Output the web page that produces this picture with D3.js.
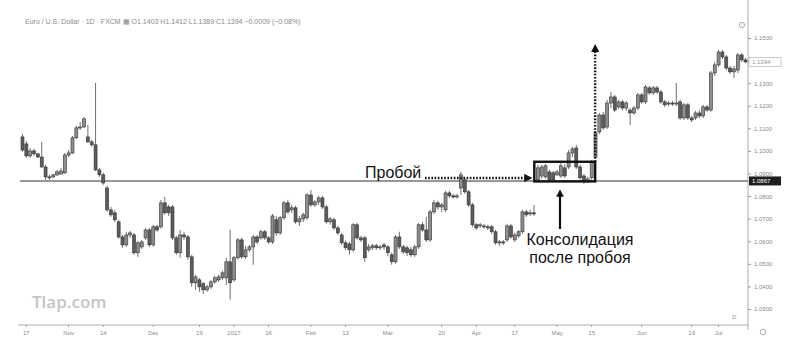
<!DOCTYPE html>
<html>
<head>
<meta charset="utf-8">
<script src="https://cdn.jsdelivr.net/npm/d3@7/dist/d3.min.js"></script>
<style>
    body { margin: 0; background: #fff; }
    svg { display: block; font-family: "Liberation Sans", Arial, sans-serif; }
    .price-tick text, .date-tick text { fill: #8a8a8a; font-size: 6px; }
    .note { font-size: 16px; fill: #111; }
</style>
</head>
<body>
<div id="chart"></div>
<script>
// EUR/USD daily candles (oct 2016 .. jul 2017)
let openP = [1.1062,1.1031,1.0978,1.1000,1.0987,1.0973,1.0929,1.0885,1.0885,1.0894,1.0898,1.0903,1.0982,1.0991,1.1058,1.1102,1.1106,1.1062,1.1040,1.1027,
    1.0916,1.0894,1.0836,1.0739,1.0726,1.0686,1.0619,1.0584,1.0628,1.0628,1.0549,1.0575,1.0615,1.0650,1.0584,1.0664,1.0664,1.0770,1.0752,1.0752,
    1.0615,1.0549,1.0628,1.0619,1.0531,1.0416,1.0429,1.0412,1.0385,1.0398,1.0420,1.0429,1.0438,1.0438,1.0509,1.0429,1.0527,1.0606,1.0531,1.0562,
    1.0575,1.0619,1.0615,1.0642,1.0615,1.0597,1.0695,1.0637,1.0704,1.0770,1.0739,1.0748,1.0686,1.0699,1.0704,1.0805,1.0761,1.0774,1.0792,1.0752,
    1.0686,1.0695,1.0659,1.0628,1.0593,1.0588,1.0562,1.0673,1.0615,1.0615,1.0562,1.0571,1.0580,1.0571,1.0584,1.0575,1.0540,1.0509,1.0619,1.0575,
    1.0571,1.0562,1.0540,1.0575,1.0673,1.0650,1.0606,1.0730,1.0770,1.0752,1.0739,1.0814,1.0801,1.0796,1.0836,1.0872,1.0819,1.0761,1.0673,1.0668,
    1.0668,1.0664,1.0664,1.0642,1.0593,1.0597,1.0606,1.0668,1.0606,1.0624,1.0642,1.0730,1.0721,1.0726,1.0872,1.0889,1.0885,1.0907,1.0903,1.0894,
    1.0889,1.0925,1.0929,1.0991,1.1013,1.0929,1.0889,1.0867,1.0881,1.0973,1.1084,1.1159,1.1106,1.1212,1.1239,1.1195,1.1217,1.1190,1.1181,1.1168,
    1.1190,1.1248,1.1217,1.1279,1.1257,1.1279,1.1261,1.1217,1.1208,1.1212,1.1208,1.1217,1.1146,1.1204,1.1146,1.1146,1.1168,1.1155,1.1195,1.1181,
    1.1345,1.1381,1.1438,1.1416,1.1367,1.1350,1.1358,1.1425,1.1403];
let highP = [1.1075,1.1044,1.1013,1.1009,1.0991,1.1040,1.0938,1.0894,1.0898,1.0916,1.0925,1.0991,1.1004,1.1066,1.1111,1.1128,1.1150,1.1115,1.1049,1.1301,
    1.0925,1.0903,1.0845,1.0752,1.0739,1.0695,1.0628,1.0642,1.0646,1.0637,1.0602,1.0606,1.0659,1.0659,1.0673,1.0673,1.0783,1.0796,1.0761,1.0761,
    1.0624,1.0650,1.0642,1.0628,1.0540,1.0451,1.0438,1.0420,1.0407,1.0429,1.0447,1.0451,1.0469,1.0527,1.0650,1.0535,1.0615,1.0615,1.0580,1.0584,
    1.0628,1.0628,1.0650,1.0650,1.0624,1.0721,1.0712,1.0712,1.0779,1.0783,1.0761,1.0757,1.0712,1.0726,1.0814,1.0827,1.0783,1.0801,1.0801,1.0761,
    1.0708,1.0704,1.0668,1.0637,1.0602,1.0597,1.0681,1.0681,1.0624,1.0624,1.0588,1.0588,1.0588,1.0584,1.0593,1.0584,1.0549,1.0628,1.0642,1.0584,
    1.0580,1.0575,1.0584,1.0681,1.0686,1.0708,1.0739,1.0783,1.0779,1.0770,1.0823,1.0823,1.0810,1.0810,1.0907,1.0881,1.0827,1.0770,1.0681,1.0681,
    1.0677,1.0673,1.0673,1.0650,1.0606,1.0606,1.0677,1.0677,1.0637,1.0650,1.0739,1.0739,1.0739,1.0761,1.0938,1.0938,1.0942,1.0916,1.0911,1.0916,
    1.0947,1.0942,1.1004,1.1018,1.1027,1.0938,1.0898,1.0885,1.0960,1.1088,1.1168,1.1173,1.1226,1.1261,1.1248,1.1226,1.1226,1.1221,1.1190,1.1199,
    1.1257,1.1257,1.1292,1.1288,1.1288,1.1288,1.1270,1.1226,1.1221,1.1221,1.1301,1.1226,1.1212,1.1212,1.1155,1.1177,1.1181,1.1204,1.1204,1.1354,
    1.1394,1.1447,1.1447,1.1425,1.1376,1.1376,1.1434,1.1434,1.1412];
let lowP = [1.0996,1.0969,1.0969,1.0978,1.0969,1.0925,1.0872,1.0872,1.0881,1.0889,1.0894,1.0898,1.0973,1.0987,1.1053,1.1093,1.1102,1.1035,1.1018,1.0911,
    1.0885,1.0850,1.0730,1.0708,1.0686,1.0611,1.0571,1.0575,1.0615,1.0540,1.0531,1.0566,1.0606,1.0575,1.0575,1.0642,1.0655,1.0717,1.0712,1.0606,
    1.0540,1.0527,1.0606,1.0518,1.0398,1.0385,1.0376,1.0367,1.0376,1.0389,1.0412,1.0420,1.0429,1.0407,1.0341,1.0420,1.0518,1.0522,1.0522,1.0553,
    1.0496,1.0588,1.0606,1.0606,1.0588,1.0588,1.0624,1.0628,1.0695,1.0721,1.0726,1.0677,1.0668,1.0686,1.0695,1.0752,1.0752,1.0761,1.0743,1.0677,
    1.0673,1.0650,1.0628,1.0584,1.0562,1.0540,1.0553,1.0606,1.0597,1.0509,1.0553,1.0562,1.0562,1.0562,1.0562,1.0535,1.0496,1.0500,1.0566,1.0544,
    1.0535,1.0531,1.0531,1.0566,1.0642,1.0597,1.0597,1.0721,1.0739,1.0730,1.0730,1.0792,1.0788,1.0788,1.0805,1.0810,1.0752,1.0664,1.0650,1.0659,
    1.0655,1.0650,1.0633,1.0584,1.0580,1.0584,1.0597,1.0611,1.0597,1.0615,1.0633,1.0708,1.0712,1.0712,1.0863,1.0876,1.0876,1.0867,1.0867,1.0889,
    1.0881,1.0881,1.0920,1.0973,1.0920,1.0872,1.0854,1.0858,1.0872,1.0965,1.1075,1.1093,1.1097,1.1190,1.1173,1.1186,1.1181,1.1177,1.1115,1.1159,
    1.1181,1.1208,1.1208,1.1248,1.1248,1.1252,1.1208,1.1195,1.1199,1.1199,1.1199,1.1137,1.1137,1.1137,1.1128,1.1137,1.1146,1.1146,1.1173,1.1173,
    1.1332,1.1372,1.1407,1.1358,1.1341,1.1323,1.1345,1.1394,1.1389];
let closeP = [1.1004,1.0978,1.1000,1.0987,1.0973,1.0929,1.0885,1.0881,1.0894,1.0907,1.0911,1.0982,1.0991,1.1058,1.1102,1.1106,1.1142,1.1040,1.1027,1.0916,
    1.0894,1.0858,1.0739,1.0717,1.0695,1.0619,1.0584,1.0628,1.0637,1.0549,1.0593,1.0597,1.0650,1.0584,1.0664,1.0650,1.0770,1.0726,1.0726,1.0615,
    1.0549,1.0628,1.0619,1.0531,1.0416,1.0442,1.0398,1.0385,1.0398,1.0420,1.0438,1.0442,1.0460,1.0509,1.0416,1.0527,1.0606,1.0531,1.0562,1.0575,
    1.0619,1.0597,1.0642,1.0615,1.0597,1.0712,1.0637,1.0704,1.0770,1.0730,1.0748,1.0686,1.0699,1.0717,1.0805,1.0761,1.0774,1.0792,1.0752,1.0686,
    1.0699,1.0659,1.0637,1.0593,1.0571,1.0562,1.0673,1.0615,1.0606,1.0527,1.0575,1.0580,1.0571,1.0575,1.0575,1.0549,1.0509,1.0619,1.0575,1.0553,
    1.0549,1.0540,1.0575,1.0673,1.0650,1.0606,1.0730,1.0770,1.0752,1.0761,1.0814,1.0801,1.0796,1.0801,1.0894,1.0819,1.0761,1.0673,1.0659,1.0673,
    1.0664,1.0659,1.0642,1.0593,1.0597,1.0593,1.0668,1.0619,1.0628,1.0642,1.0730,1.0717,1.0726,1.0721,1.0925,1.0929,1.0934,1.0872,1.0872,1.0907,
    1.0934,1.0889,1.0991,1.1009,1.0929,1.0881,1.0863,1.0876,1.0951,1.1080,1.1159,1.1102,1.1212,1.1239,1.1181,1.1217,1.1190,1.1212,1.1168,1.1190,
    1.1248,1.1217,1.1283,1.1257,1.1279,1.1261,1.1217,1.1204,1.1212,1.1208,1.1212,1.1146,1.1204,1.1146,1.1137,1.1168,1.1155,1.1195,1.1181,1.1345,
    1.1381,1.1438,1.1416,1.1367,1.1350,1.1363,1.1425,1.1403,1.1394];

// price axis and date axis labels
let priceTicks = [1.03,1.04,1.05,1.06,1.07,1.08,1.09,1.10,1.11,1.12,1.13,1.14,1.15];
let dateLabels = ["17","Nov","14","Dec","19","2017","16","Feb","13","Mar","20","Apr","17","May","15","Jun","19","Jul"];
let dateIndex  = [1,12,21,34,46,55,64,75,84,95,109,118,128,139,148,161,174,181];

// breakout level and the consolidation range (candle indexes)
let breakoutLevel = 1.0867;
let consolidation = [134, 148];
let lastPrice = 1.1394;

let width = 791, height = 357;
let svg = d3.select("#chart").append("svg")
    .attr("width", width)
    .attr("height", height);

let n = closeP.length;
let x = d3.scaleBand().domain(d3.range(n)).range([21, 747]).paddingInner(0.22);
let y = d3.scaleLinear().domain([1.03, 1.15]).range([309, 38]);
let cx = i => x(i) + x.bandwidth() / 2;

//TITLE LINE//////////////////////////////////////////////////////////////
svg.append("text")
    .attr("x", 25).attr("y", 24)
    .attr("font-size", 7).attr("fill", "#8a8a8a")
    .text("Euro / U.S. Dollar · 1D · FXCM  \u25A6  O" + openP[n - 1].toFixed(4) + " H" + highP[n - 1].toFixed(4) +
        " L" + lowP[n - 1].toFixed(4) + " C" + closeP[n - 1].toFixed(4) + " \u22120.0009 (\u22120.08%)");

//AXES////////////////////////////////////////////////////////////////////
svg.append("line")
    .attr("x1", 748).attr("x2", 748).attr("y1", 0).attr("y2", 330)
    .attr("stroke", "#9a9a9a").attr("stroke-width", 0.8);
svg.append("line")
    .attr("x1", 18).attr("x2", 748).attr("y1", 325).attr("y2", 325)
    .attr("stroke", "#9a9a9a").attr("stroke-width", 0.8);

// the label under the last price box is hidden by the box, as on the chart
let yAxis = d3.axisRight(y).tickValues(priceTicks)
    .tickFormat(d => Math.abs(y(d) - y(lastPrice)) < 7 ? "" : d3.format(".4f")(d))
    .tickSize(3).tickPadding(3);
svg.append("g").attr("class", "price-tick")
    .attr("transform", "translate(748,0)")
    .call(yAxis)
    .call(g => g.select(".domain").remove())
    .call(g => g.selectAll("line").attr("stroke", "#9a9a9a"));

let xAxis = d3.axisBottom(x)
    .tickValues(dateIndex)
    .tickFormat((d, i) => dateLabels[i])
    .tickSize(2).tickPadding(4);
svg.append("g").attr("class", "date-tick")
    .attr("transform", "translate(0,325)")
    .call(xAxis)
    .call(g => g.select(".domain").remove())
    .call(g => g.selectAll("line").attr("stroke", "#9a9a9a"));

//WATERMARK///////////////////////////////////////////////////////////////
svg.append("text")
    .attr("x", 32).attr("y", 308)
    .attr("font-family", "'Open Sans', sans-serif")
    .attr("font-size", 17).attr("font-weight", 600)
    .attr("fill", "#c4c4c4")
    .text("Tlap.com");

//BREAKOUT LEVEL//////////////////////////////////////////////////////////
svg.append("line")
    .attr("x1", 20).attr("x2", 748)
    .attr("y1", y(breakoutLevel)).attr("y2", y(breakoutLevel))
    .attr("stroke", "#333").attr("stroke-width", 1.1);

//CANDLES/////////////////////////////////////////////////////////////////
let candles = svg.append("g").selectAll("g")
    .data(d3.range(n))
    .join("g");

candles.append("line")
    .attr("x1", cx).attr("x2", cx)
    .attr("y1", i => y(highP[i]))
    .attr("y2", i => y(lowP[i]))
    .attr("stroke", "#4a4a4a").attr("stroke-width", 0.8);

candles.append("rect")
    .attr("x", i => x(i))
    .attr("width", x.bandwidth())
    .attr("y", i => y(Math.max(openP[i], closeP[i])))
    .attr("height", i => Math.max(1, Math.abs(y(openP[i]) - y(closeP[i]))))
    .attr("fill", i => closeP[i] >= openP[i] ? "#8e8e8e" : "#5c5c5c")
    .attr("stroke", "#333").attr("stroke-width", 0.6);

//PRICE LABELS ON THE AXIS////////////////////////////////////////////////
svg.append("rect")
    .attr("x", 749).attr("y", y(breakoutLevel) - 4.5)
    .attr("width", 32).attr("height", 9).attr("fill", "#1e1e1e");
svg.append("text")
    .attr("x", 752).attr("y", y(breakoutLevel) + 2.2)
    .attr("font-size", 6).attr("fill", "#fff")
    .text(breakoutLevel.toFixed(4));

svg.append("rect")
    .attr("x", 749).attr("y", y(lastPrice) - 4.5)
    .attr("width", 32).attr("height", 9)
    .attr("fill", "#fff").attr("stroke", "#aaa").attr("stroke-width", 0.6);
svg.append("text")
    .attr("x", 752).attr("y", y(lastPrice) + 2.2)
    .attr("font-size", 6).attr("fill", "#999")
    .text(lastPrice.toFixed(4));

//ANNOTATIONS/////////////////////////////////////////////////////////////
let defs = svg.append("defs");
defs.append("marker")
    .attr("id", "head")
    .attr("viewBox", "0 0 10 10")
    .attr("refX", 5).attr("refY", 5)
    .attr("markerWidth", 3.4).attr("markerHeight", 3.4)
    .attr("orient", "auto")
    .append("path").attr("d", "M0,0 L10,5 L0,10 Z").attr("fill", "#111");

let boxLeft = x(consolidation[0]) - 2;
let boxRight = x(consolidation[1]) + x.bandwidth() + 2;
let boxTop = y(d3.max(highP.slice(consolidation[0], consolidation[1] + 1)) - 0.0075);
let boxBottom = y(breakoutLevel - 0.0002);

// "Пробой" label with dotted arrow to the box
svg.append("text").attr("class", "note")
    .attr("x", 365).attr("y", y(breakoutLevel) - 3)
    .text("Пробой");
svg.append("line")
    .attr("x1", 425).attr("x2", boxLeft - 6)
    .attr("y1", y(breakoutLevel) - 3).attr("y2", y(breakoutLevel) - 3)
    .attr("stroke", "#111").attr("stroke-width", 2.4)
    .attr("stroke-dasharray", "1.6,1.6")
    .attr("marker-end", "url(#head)");

// consolidation box
svg.append("rect")
    .attr("x", boxLeft).attr("y", boxTop)
    .attr("width", boxRight - boxLeft).attr("height", boxBottom - boxTop)
    .attr("fill", "none").attr("stroke", "#111").attr("stroke-width", 2.4);

// target arrow going up from the box
svg.append("line")
    .attr("x1", boxRight).attr("x2", boxRight)
    .attr("y1", boxTop).attr("y2", 48)
    .attr("stroke", "#111").attr("stroke-width", 2.4)
    .attr("stroke-dasharray", "1.6,1.6")
    .attr("marker-end", "url(#head)");

// solid arrow to the box from the caption
svg.append("line")
    .attr("x1", 560).attr("x2", 560)
    .attr("y1", 229).attr("y2", 193)
    .attr("stroke", "#111").attr("stroke-width", 2.2)
    .attr("marker-end", "url(#head)");

svg.append("text").attr("class", "note")
    .attr("x", 580).attr("y", 245)
    .attr("text-anchor", "middle")
    .text("Консолидация");
svg.append("text").attr("class", "note")
    .attr("x", 580).attr("y", 263)
    .attr("text-anchor", "middle")
    .text("после пробоя");

//SMALL ICONS/////////////////////////////////////////////////////////////
svg.append("circle").attr("cx", 742).attr("cy", 25).attr("r", 2.6)
    .attr("fill", "none").attr("stroke", "#aaa").attr("stroke-width", 1);
svg.append("circle").attr("cx", 763).attr("cy", 332).attr("r", 2.8)
    .attr("fill", "none").attr("stroke", "#aaa").attr("stroke-width", 1);
svg.append("text").attr("x", 732).attr("y", 319)
    .attr("font-size", 6).attr("fill", "#999").text("D");
</script>
</body>
</html>
